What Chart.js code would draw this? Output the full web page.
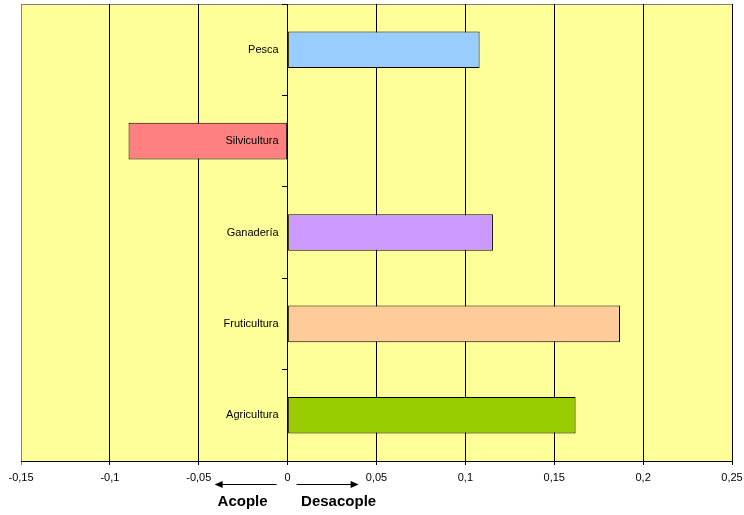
<!DOCTYPE html>
<html>
<head>
<meta charset="utf-8">
<script src="https://cdn.jsdelivr.net/npm/chart.js@4/dist/chart.umd.min.js"></script>
<style>
  html, body { margin: 0; padding: 0; background: #fff; }
  #wrap { width: 744px; height: 515px; }
</style>
</head>
<body>
<div id="wrap"><canvas id="chartDesacople"></canvas></div>
<script>
// sectores, de arriba hacia abajo
const sectores = ['Pesca', 'Silvicultura', 'Ganadería', 'Fruticultura', 'Agricultura'];
const valores = [0.108, -0.0895, 0.1155, 0.187, 0.162];
const colores = ['#99CCFF', '#FF8080', '#CC99FF', '#FFCC99', '#99CC00'];
const ejeMin = -0.15;
const ejeMax = 0.25;
const ejePaso = 0.05;

const fuente = '"Liberation Sans", Arial, sans-serif';

// fondo amarillo del area de trazado + marco gris
const fondoPlot = {
  id: 'fondoPlot',
  beforeDraw(chart) {
    const { ctx, chartArea: a } = chart;
    ctx.save();
    ctx.fillStyle = '#FFFF99';
    ctx.fillRect(a.left, a.top, a.right - a.left, a.bottom - a.top);
    ctx.strokeStyle = '#808080';
    ctx.lineWidth = 1;
    ctx.beginPath();
    ctx.moveTo(a.left + 0.5, a.bottom);
    ctx.lineTo(a.left + 0.5, a.top + 0.5);
    ctx.lineTo(a.right, a.top + 0.5);
    ctx.stroke();
    ctx.restore();
  }
};

// nombres de sector junto al eje del cero, por encima de las barras
const nombresSector = {
  id: 'nombresSector',
  afterDatasetsDraw(chart) {
    const ctx = chart.ctx;
    const y = chart.scales.y;
    const x0 = chart.scales.x.getPixelForValue(0);
    ctx.save();
    ctx.font = '11px ' + fuente;
    ctx.fillStyle = '#000';
    ctx.textAlign = 'right';
    ctx.textBaseline = 'middle';
    sectores.forEach((s, i) => {
      ctx.fillText(s, x0 - 9, y.getPixelForValue(i));
    });
    ctx.restore();
  }
};

// flechas y textos Acople / Desacople bajo el eje
const flechas = {
  id: 'flechas',
  afterDraw(chart) {
    const ctx = chart.ctx;
    const x0 = chart.scales.x.getPixelForValue(0);
    const yF = 484;
    ctx.save();
    ctx.strokeStyle = '#000';
    ctx.fillStyle = '#000';
    ctx.lineWidth = 1;
    const flecha = (desde, hasta) => {
      const dir = Math.sign(hasta - desde);
      ctx.beginPath();
      ctx.moveTo(desde, yF + 0.5);
      ctx.lineTo(hasta - dir * 6, yF + 0.5);
      ctx.stroke();
      ctx.beginPath();
      ctx.moveTo(hasta, yF + 0.5);
      ctx.lineTo(hasta - dir * 8, yF - 3);
      ctx.lineTo(hasta - dir * 8, yF + 4);
      ctx.closePath();
      ctx.fill();
    };
    flecha(x0 - 11, x0 - 73);
    flecha(x0 + 9, x0 + 71);
    ctx.font = 'bold 15px ' + fuente;
    ctx.textAlign = 'center';
    ctx.textBaseline = 'middle';
    ctx.fillText('Acople', x0 - 45, 502);
    ctx.fillText('Desacople', x0 + 51, 502);
    ctx.restore();
  }
};

const ctx = document.getElementById('chartDesacople');
new Chart(ctx, {
  type: 'bar',
  data: {
    labels: sectores,
    datasets: [{
      data: valores,
      backgroundColor: colores,
      borderColor: '#000',
      borderWidth: 1,
      borderSkipped: false,
      barPercentage: 0.4,
      categoryPercentage: 1
    }]
  },
  options: {
    indexAxis: 'y',
    responsive: true,
    maintainAspectRatio: false,
    animation: false,
    layout: { padding: { left: 21, right: 12, top: 4, bottom: 0 } },
    plugins: {
      legend: { display: false },
      tooltip: { enabled: false }
    },
    scales: {
      x: {
        min: ejeMin,
        max: ejeMax,
        border: { color: '#000', width: 1 },
        grid: {
          color: (c) => c.index === 0 ? '#808080' : '#000',
          lineWidth: 1,
          drawTicks: true,
          tickLength: 4
        },
        ticks: {
          stepSize: ejePaso,
          color: '#000',
          padding: 6,
          maxRotation: 0,
          font: { family: fuente, size: 11 },
          callback: (v) => {
            const r = Math.round(v * 100) / 100;
            return String(r).replace('.', ',');
          }
        },
        afterFit(scale) {
          scale.height = 54;
          scale.paddingLeft = 0;
          scale.paddingRight = 0;
        }
      },
      y: {
        position: { x: 0 },
        offset: true,
        border: { color: '#000', width: 1 },
        grid: {
          offset: true,
          drawOnChartArea: false,
          drawTicks: true,
          tickLength: 5,
          color: '#000'
        },
        ticks: { display: false }
      }
    }
  },
  plugins: [fondoPlot, nombresSector, flechas]
});
</script>
</body>
</html>
